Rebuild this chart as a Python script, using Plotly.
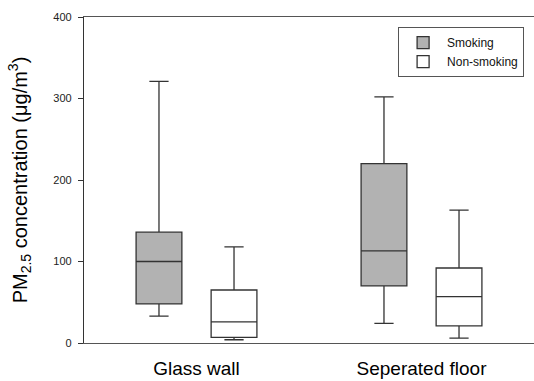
import plotly.graph_objects as go

categories = ["Glass wall", "Seperated floor"]
series_names = ["Smoking", "Non-smoking"]

smoking_low = [33, 24]
smoking_q1 = [48, 70]
smoking_med = [100, 113]
smoking_q3 = [136, 220]
smoking_high = [321, 302]

nonsmoking_low = [4, 6]
nonsmoking_q1 = [7, 21]
nonsmoking_med = [26, 57]
nonsmoking_q3 = [65, 92]
nonsmoking_high = [118, 163]

y_ticks = [0, 100, 200, 300, 400]

fig = go.Figure()
fig.add_trace(go.Box(
    name=series_names[0], x=categories,
    q1=smoking_q1, median=smoking_med, q3=smoking_q3,
    lowerfence=smoking_low, upperfence=smoking_high,
    fillcolor="#b2b2b2", line=dict(color="#333333", width=1.3),
    whiskerwidth=0.42, boxpoints=False,
))
fig.add_trace(go.Box(
    name=series_names[1], x=categories,
    q1=nonsmoking_q1, median=nonsmoking_med, q3=nonsmoking_q3,
    lowerfence=nonsmoking_low, upperfence=nonsmoking_high,
    fillcolor="#ffffff", line=dict(color="#333333", width=1.3),
    whiskerwidth=0.42, boxpoints=False,
))

fig.update_layout(
    width=534, height=381,
    margin=dict(l=84, r=0, t=17, b=38),
    paper_bgcolor="white", plot_bgcolor="white",
    font=dict(family="Liberation Sans, Arial, sans-serif", color="#000000"),
    boxmode="group", boxgap=0.333, boxgroupgap=0.39,
    showlegend=True,
    legend=dict(
        x=0.698, y=0.969, xanchor="left", yanchor="top",
        bordercolor="#555555", borderwidth=1, bgcolor="white",
        font=dict(size=12, color="#111111"),
        tracegroupgap=0, itemwidth=38,
    ),
    xaxis=dict(
        type="category", range=[-0.5, 1.5], automargin=False,
        showline=True, linecolor="#555555", linewidth=1.3, mirror=True,
        ticks="", showgrid=False, zeroline=False,
        ticklabelstandoff=8,
        tickfont=dict(size=19, color="#000000"),
    ),
    yaxis=dict(
        range=[0, 400], tickvals=y_ticks, automargin=False,
        showline=True, linecolor="#333333", linewidth=1.3,
        ticks="outside", ticklen=5, tickcolor="#333333",
        showgrid=False, zeroline=False,
        ticklabelstandoff=4,
        tickfont=dict(size=11, color="#222222"),
        title=dict(text="PM<sub>2.5</sub> concentration (μg/m<sup>3</sup>)",
                   font=dict(size=20, color="#000000"), standoff=20),
    ),
)

fig.write_html("out.html")
